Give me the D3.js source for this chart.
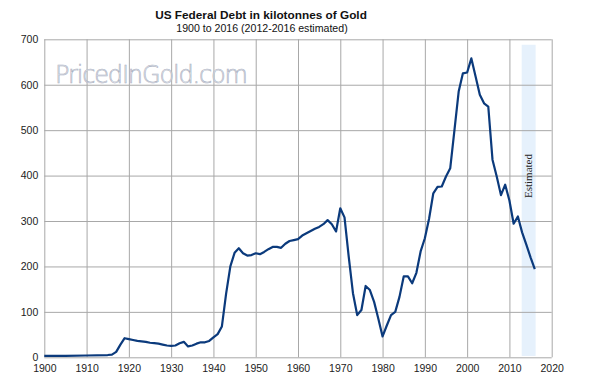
<!DOCTYPE html>
<html lang="en">
<head>
<meta charset="UTF-8" />
<script src="https://d3js.org/d3.v7.min.js"></script>
<title>US Federal Debt in kilotonnes of Gold</title>
<style>
    body { margin: 0; background: #fff; }
    text { font-family: "Liberation Sans", Arial, sans-serif; }
    .grid line { stroke: #a8a8a8; stroke-width: 1; }
    .grid path { display: none; }
    .tick text { fill: #222; font-size: 10.5px; }
</style>
</head>
<body>
<script>
    // year / debt in kilotonnes of gold
    const years = [1900, 1905, 1910, 1915, 1916, 1917, 1918, 1919, 1920, 1921, 1922, 1923, 1924,
        1925, 1926, 1927, 1928, 1929, 1930, 1931, 1932, 1933, 1934, 1935, 1936, 1937, 1938, 1939,
        1940, 1941, 1942, 1943, 1944, 1945, 1946, 1947, 1948, 1949, 1950, 1951, 1952, 1953, 1954,
        1955, 1956, 1957, 1958, 1959, 1960, 1961, 1962, 1963, 1964, 1965, 1966, 1967, 1968, 1969,
        1970, 1971, 1972, 1973, 1974, 1975, 1976, 1977, 1978, 1979, 1980, 1981, 1982, 1983, 1984,
        1985, 1986, 1987, 1988, 1989, 1990, 1991, 1992, 1993, 1994, 1995, 1996, 1997, 1998, 1999,
        2000, 2001, 2002, 2003, 2004, 2005, 2006, 2007, 2008, 2009, 2010, 2011, 2012, 2013, 2014,
        2015, 2016];
    const debt = [3, 3, 4, 5, 6, 12, 28, 42, 40, 38, 36, 35, 34,
        32, 31, 30, 28, 26, 25, 26, 31, 34, 24, 26, 30, 33, 33, 36,
        44, 51, 68, 140, 200, 230, 240, 229, 224, 225, 229, 227, 232, 238, 243,
        243, 241, 250, 256, 258, 260, 268, 273, 278, 283, 287, 293, 302, 293, 277,
        328, 308, 221, 141, 93, 104, 157, 148, 122, 85, 46, 70, 93, 100, 133,
        178, 178, 163, 186, 233, 262, 305, 361, 375, 376, 398, 416, 500, 585, 625,
        627, 658, 618, 578, 559, 552, 435, 398, 357, 380, 345, 294, 310, 275, 248,
        220, 194];
    const xTicks = d3.range(1900, 2021, 10);
    const yTicks = [0, 100, 200, 300, 400, 500, 600, 700];
    const estimated = [2013, 2016];

    const width = 590, height = 385;
    const svg = d3.select("body").append("svg")
        .attr("width", width)
        .attr("height", height);

    const x = d3.scaleLinear().domain([1900, 2020]).range([44.3, 551.7]);
    const y = d3.scaleLinear().domain([0, 700]).range([357.3, 39.3]);

    // estimated band
    svg.append("rect")
        .attr("x", x(estimated[0] - 0.1))
        .attr("y", y(688))
        .attr("width", x(estimated[1] + 0.2) - x(estimated[0] - 0.1))
        .attr("height", y(3) - y(688))
        .attr("fill", "#e6f1fc");

    // gridlines
    const gx = svg.append("g").attr("class", "grid")
        .attr("transform", `translate(0,${y(0)})`)
        .call(d3.axisBottom(x).tickValues(xTicks).tickFormat(d3.format("d"))
            .tickSize(-(y(0) - y(700))).tickPadding(5));
    gx.selectAll(".tick text").attr("dy", "0.95em");

    const gy = svg.append("g").attr("class", "grid")
        .attr("transform", `translate(${x(1900)},0)`)
        .call(d3.axisLeft(y).tickValues(yTicks)
            .tickSize(-(x(2020) - x(1900))).tickPadding(6));

    // watermark
    svg.append("text")
        .attr("x", 55)
        .attr("y", 83)
        .attr("font-size", 24)
        .style("font-family", "'DejaVu Sans', sans-serif")
        .style("font-weight", 200)
        .attr("fill", "#f4f5f9")
        .attr("stroke", "#a9afc0")
        .attr("stroke-width", 0.6)
        .attr("textLength", 193)
        .text("PricedInGold.com");

    // Estimated label
    svg.append("text")
        .attr("transform", `translate(${(x(estimated[0]) + x(estimated[1])) / 2 + 4},176) rotate(-90)`)
        .attr("text-anchor", "middle")
        .style("font-family", "'Liberation Serif', 'Times New Roman', serif")
        .attr("font-size", 11)
        .attr("fill", "#222")
        .text("Estimated");

    // line
    const line = d3.line()
        .x((d, i) => x(years[i]))
        .y(d => y(d));
    svg.append("path")
        .datum(debt)
        .attr("d", line)
        .attr("fill", "none")
        .attr("stroke", "#0b3a7c")
        .attr("stroke-width", 2.2)
        .attr("stroke-linejoin", "round");

    // titles
    svg.append("text")
        .attr("x", 261)
        .attr("y", 19)
        .attr("text-anchor", "middle")
        .attr("font-size", 11.8)
        .attr("font-weight", "bold")
        .attr("fill", "#111")
        .text("US Federal Debt in kilotonnes of Gold");
    svg.append("text")
        .attr("x", 262)
        .attr("y", 31.5)
        .attr("text-anchor", "middle")
        .attr("font-size", 10.6)
        .attr("fill", "#111")
        .text("1900 to 2016 (2012-2016 estimated)");
</script>
</body>
</html>
